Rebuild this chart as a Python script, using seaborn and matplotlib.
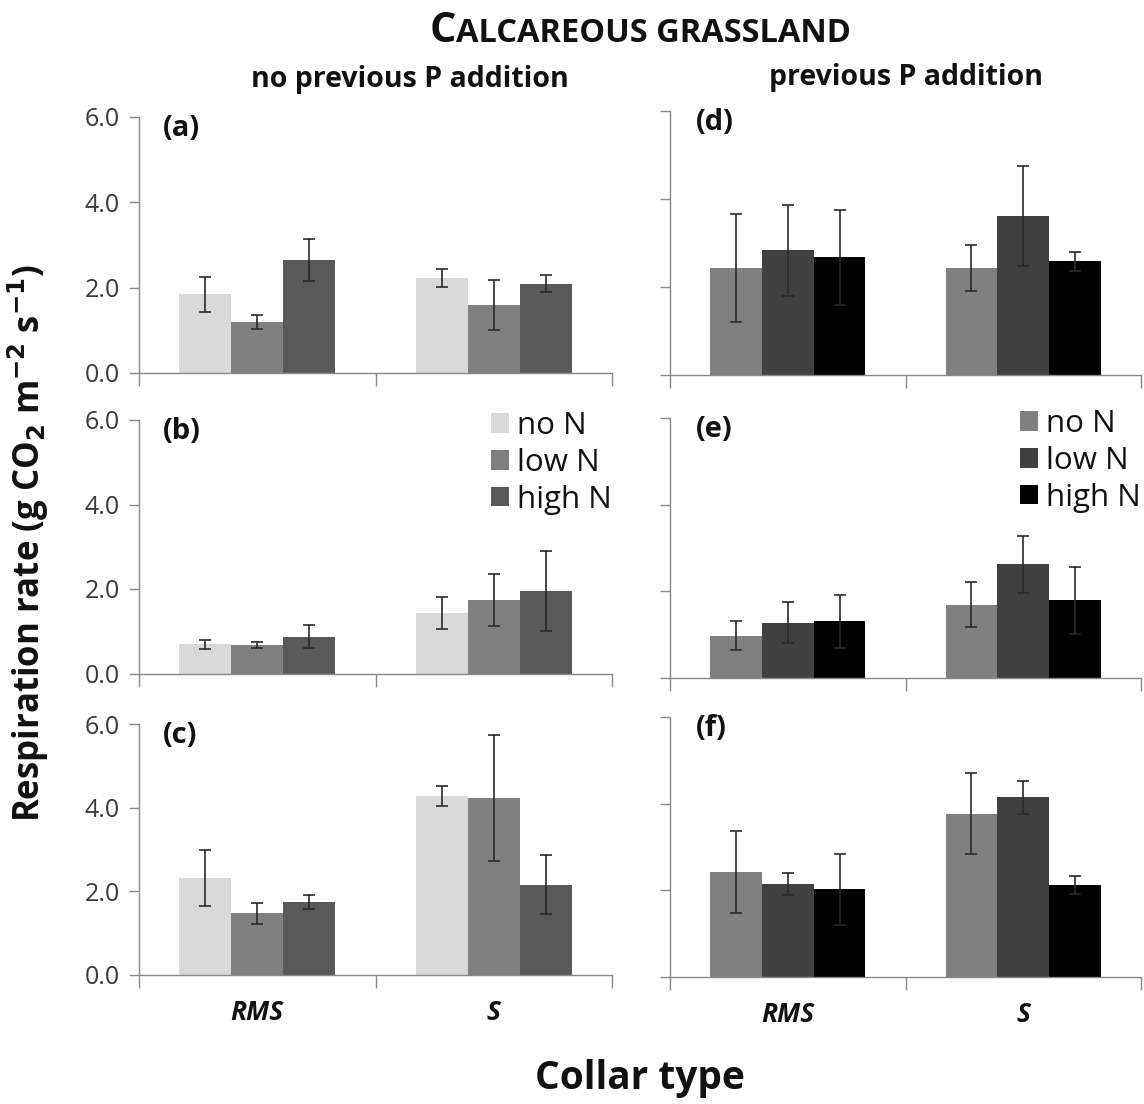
import matplotlib
matplotlib.use("Agg")
import matplotlib.pyplot as plt
import seaborn as sns
import pandas as pd
import numpy as np
from matplotlib.patches import Patch
from matplotlib.container import BarContainer
from matplotlib.ticker import FixedLocator, FormatStrFormatter

sns.set_theme(style="white")
plt.rcParams['font.family'] = ['Open Sans', 'DejaVu Sans']

collars = ["RMS", "S"]
n_levels = ["no N", "low N", "high N"]

# means: per panel, [RMS(no,low,high), S(no,low,high)]
a_mean = [1.84, 1.20, 2.65, 2.23, 1.59, 2.09]
a_se   = [0.41, 0.16, 0.50, 0.21, 0.58, 0.20]
b_mean = [0.69, 0.67, 0.87, 1.43, 1.74, 1.96]
b_se   = [0.10, 0.075, 0.275, 0.37, 0.61, 0.945]
c_mean = [2.32, 1.48, 1.745, 4.27, 4.23, 2.16]
c_se   = [0.68, 0.25, 0.165, 0.24, 1.51, 0.70]
d_mean = [2.43, 2.83, 2.68, 2.43, 3.61, 2.58]
d_se   = [1.23, 1.045, 1.08, 0.525, 1.14, 0.22]
e_mean = [0.98, 1.28, 1.31, 1.69, 2.62, 1.79]
e_se   = [0.33, 0.465, 0.61, 0.52, 0.665, 0.77]
f_mean = [2.42, 2.15, 2.02, 3.77, 4.15, 2.12]
f_se   = [0.94, 0.26, 0.82, 0.93, 0.38, 0.20]

left_palette = ["#d9d9d9", "#808080", "#595959"]
right_palette = ["#808080", "#404040", "#000000"]
yticks = [0.0, 2.0, 4.0, 6.0]

W, H = 1144, 1104
fig = plt.figure(figsize=(W / 100, H / 100), dpi=100)

def box(x0, x1, y0, y1):
    return [x0 / W, 1 - y1 / H, (x1 - x0) / W, (y1 - y0) / H]

panels = [
    ("(a)", a_mean, a_se, left_palette, box(139, 612, 117, 373), True, False),
    ("(b)", b_mean, b_se, left_palette, box(139, 612, 420, 673.5), True, False),
    ("(c)", c_mean, c_se, left_palette, box(139, 612, 724, 975), True, True),
    ("(d)", d_mean, d_se, right_palette, box(670, 1141, 111, 375), False, False),
    ("(e)", e_mean, e_se, right_palette, box(670, 1141, 418, 678), False, False),
    ("(f)", f_mean, f_se, right_palette, box(670, 1141, 717, 977), False, True),
]

axis_col = "#888888"
for label, means, ses, pal, rect, show_y, show_x in panels:
    ax = fig.add_axes(rect)
    df = pd.DataFrame({
        "collar": [c for c in collars for _ in n_levels],
        "N": [n for _ in collars for n in n_levels],
        "rate": means,
        "se": ses,
    })
    sns.barplot(data=df, x="collar", y="rate", hue="N", order=collars,
                hue_order=n_levels, palette=pal, width=0.66, errorbar=None,
                legend=False, ax=ax, saturation=1, linewidth=0)
    bar_conts = [c for c in ax.containers if isinstance(c, BarContainer)]
    for hi, cont in enumerate(bar_conts):
        for ci, bar in enumerate(cont):
            row = df[(df.collar == collars[ci]) & (df.N == n_levels[hi])].iloc[0]
            ax.errorbar(bar.get_x() + bar.get_width() / 2, bar.get_height(),
                        yerr=row.se, fmt="none", ecolor="#2a2a2a",
                        elinewidth=1.2, capsize=4, capthick=1.2)
    ax.set_xlim(-0.5, 1.5)
    ax.set_ylim(0, 6)
    ax.set_xlabel("")
    ax.set_ylabel("")
    for s in ["top", "right"]:
        ax.spines[s].set_visible(False)
    for s in ["left", "bottom"]:
        ax.spines[s].set_color(axis_col)
        ax.spines[s].set_linewidth(1.0)
    ax.set_yticks(yticks)
    ax.yaxis.set_major_formatter(FormatStrFormatter("%.1f"))
    ax.tick_params(axis="y", direction="out", length=7, width=1,
                   color=axis_col, labelsize=18, labelcolor="#3a3a3a",
                   pad=7, left=True, labelleft=show_y)
    ax.set_xticks([0, 1])
    ax.xaxis.set_minor_locator(FixedLocator([-0.5, 0.5, 1.5]))
    ax.tick_params(axis="x", which="major", length=0, pad=17, bottom=True,
                   labelbottom=show_x)
    ax.tick_params(axis="x", which="minor", direction="out", length=9,
                   width=1, color=axis_col, bottom=True)
    if show_x:
        ax.set_xticklabels(collars, fontsize=19, fontweight="bold",
                           fontstyle="italic", color="#111111")
    ax.text(0.05 if show_y else 0.055, 0.955, label, transform=ax.transAxes,
            fontsize=21, fontweight="bold", va="center", ha="left",
            color="#111111")
    if label in ("(b)", "(e)"):
        handles = [Patch(facecolor=c, edgecolor="none") for c in pal]
        lx, ly = (491, 411) if label == "(b)" else (1020, 409)
        leg = ax.legend(handles, n_levels, loc="upper left",
                        bbox_to_anchor=(lx / W, 1 - ly / H),
                        bbox_transform=fig.transFigure, frameon=False,
                        fontsize=22.5, handlelength=0.58, handleheight=0.58,
                        handletextpad=0.26, labelspacing=0.22, borderpad=0,
                        borderaxespad=0)
        for t in leg.get_texts():
            t.set_color("#111111")

# Title in small caps style
fig.canvas.draw()
r = fig.canvas.get_renderer()
t1 = fig.text(0, 1 - 42 / H, "C", fontsize=30, fontweight="bold",
              va="baseline", ha="left", color="#111111")
t2 = fig.text(0, 1 - 42 / H, "ALCAREOUS GRASSLAND", fontsize=23.5,
              fontweight="bold", va="baseline", ha="left", color="#111111")
w1 = t1.get_window_extent(r).width
w2 = t2.get_window_extent(r).width
x0 = 640 - (w1 + w2) / 2
t1.set_x(x0 / W)
t2.set_x((x0 + w1) / W)

fig.text(410 / W, 1 - 79 / H, "no previous P addition", fontsize=20.5,
         fontweight="bold", ha="center", va="center", color="#111111")
fig.text(906 / W, 1 - 77 / H, "previous P addition", fontsize=20.5,
         fontweight="bold", ha="center", va="center", color="#111111")

fig.text(28 / W, 1 - 543 / H,
         r"Respiration rate (g CO$_\mathbf{2}$ m$^\mathbf{-2}$ s$^\mathbf{-1}$)",
         rotation=90, fontsize=25, fontweight="bold", ha="center",
         va="center", color="#111111")
fig.text(640 / W, 1 - 1078 / H, "Collar type", fontsize=28,
         fontweight="bold", ha="center", va="center", color="#111111")

fig.savefig("out.png", dpi=100)
